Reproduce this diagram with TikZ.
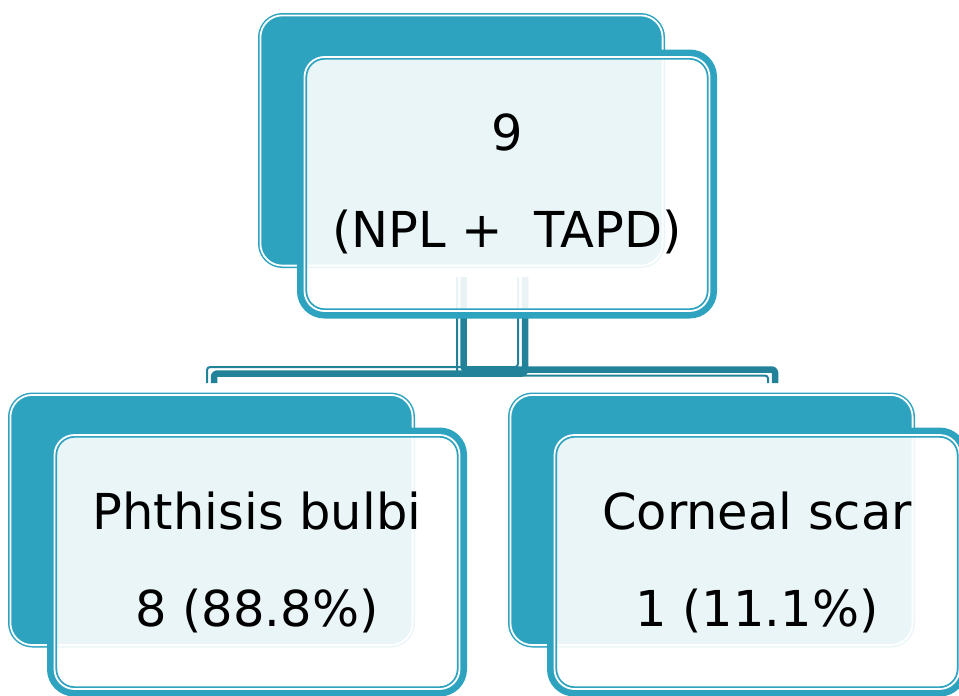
\documentclass[tikz,border=0pt]{standalone}
\usepackage{fontspec}
\setmainfont{DejaVu Sans}
\definecolor{boxteal}{RGB}{46,163,191}
\definecolor{linkteal}{RGB}{34,130,153}
\begin{document}
\begin{tikzpicture}[x=1pt, y=-1pt, line join=round, line cap=round,
	backbox/.style={fill=boxteal, draw=boxteal, double=white, double distance=1.8pt, line width=1.5pt, rounded corners=22pt, minimum width=402.2pt, minimum height=250.2pt, inner sep=0pt, outer sep=2.4pt},
	frontbox/.style={draw=boxteal, line width=6.5pt, fill=white, fill opacity=0.9, text opacity=1, rounded corners=24pt, minimum width=413.5pt, minimum height=262.5pt, inner sep=0pt, align=center, font=\fontsize{49.5}{97}\selectfont},
	innerline/.style={draw=boxteal, line width=1.8pt, double=white, double distance=1.8pt, rounded corners=20pt},
	thicklink/.style={draw=linkteal, line width=6.5pt, line cap=butt, rounded corners=3pt},
	thinlink/.style={draw=linkteal, line width=2pt, line cap=butt, rounded corners=3pt}]
	\useasboundingbox (0,0) rectangle (959,696);
	\clip (0,0) rectangle (959,696);
	\node[backbox] (rootbk) at (461.5,140.5) {};
	\node[backbox] (phthisisbk) at (211.5,520) {};
	\node[backbox] (cornealbk) at (711.5,520) {};
	\draw[thinlink] ([xshift=-4.5pt,yshift=-9pt]rootbk.south) |- ([xshift=56.5pt,yshift=17pt]cornealbk.north) -- ([xshift=56.5pt,yshift=9.5pt]cornealbk.north);
	\draw[thicklink] ([xshift=2pt,yshift=-9pt]rootbk.south) |- ([xshift=63.5pt,yshift=23pt]cornealbk.north) -- ([xshift=63.5pt,yshift=9.5pt]cornealbk.north);
	\draw[thinlink] ([xshift=56.5pt,yshift=-9pt]rootbk.south) |- ([xshift=-4.5pt,yshift=25.5pt]phthisisbk.north) -- ([xshift=-4.5pt,yshift=9.5pt]phthisisbk.north);
	\draw[thicklink] ([xshift=63.5pt,yshift=-9pt]rootbk.south) |- ([xshift=2.5pt,yshift=19pt]phthisisbk.north) -- ([xshift=2.5pt,yshift=9.5pt]phthisisbk.north);
	\node[frontbox] (root) at (507,184) {9\\(NPL + \ TAPD)};
	\node[frontbox] (phthisis) at (257,562) {Phthisis bulbi\\8 (88.8\%)};
	\node[frontbox] (corneal) at (757,562) {Corneal scar\\1 (11.1\%)};
	\foreach \n in {root,phthisis,corneal}
	\draw[innerline] ([xshift=7.5pt,yshift=-7.5pt]\n.north west) rectangle ([xshift=-7.5pt,yshift=7.5pt]\n.south east);
\end{tikzpicture}
\end{document}
